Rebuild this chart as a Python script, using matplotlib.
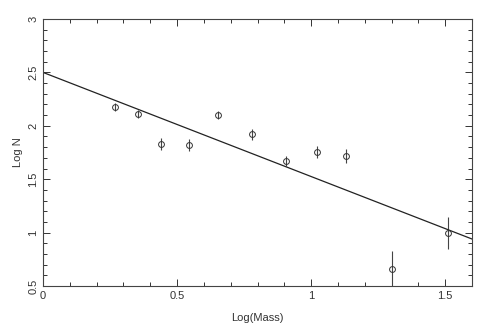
import matplotlib
matplotlib.use('Agg')
import matplotlib.pyplot as plt
from matplotlib.ticker import MultipleLocator

# Data
log_mass = [0.27, 0.354, 0.44, 0.545, 0.653, 0.78, 0.907, 1.022, 1.13, 1.302, 1.51]
log_n = [2.175, 2.11, 1.83, 1.82, 2.10, 1.92, 1.67, 1.755, 1.715, 0.66, 1.0]
log_n_err = [0.04, 0.04, 0.06, 0.06, 0.04, 0.05, 0.05, 0.06, 0.065, 0.17, 0.15]

fit_x = [0.0, 1.6]
fit_intercept = 2.5
fit_slope = -0.975

plt.rcParams['font.family'] = ['Liberation Sans', 'DejaVu Sans']
fig = plt.figure(figsize=(4.91, 3.35), dpi=100)
ax = fig.add_axes([43 / 491, 1 - 286 / 335, 429 / 491, 267 / 335])

ax.errorbar(log_mass, log_n, yerr=log_n_err, fmt='o', mfc='none', mec='#333333',
            ecolor='#444444', ms=4.2, mew=0.7, elinewidth=0.8, capsize=0)
ax.plot(fit_x, [fit_intercept + fit_slope * x for x in fit_x], color='#222222', lw=0.9)

ax.set_xlim(0, 1.6)
ax.set_ylim(0.5, 3)
ax.xaxis.set_major_locator(MultipleLocator(0.5))
ax.xaxis.set_minor_locator(MultipleLocator(0.1))
ax.yaxis.set_major_locator(MultipleLocator(0.5))
ax.yaxis.set_minor_locator(MultipleLocator(0.1))
ax.xaxis.set_major_formatter(plt.FuncFormatter(lambda v, p: f'{v:g}'))
ax.yaxis.set_major_formatter(plt.FuncFormatter(lambda v, p: f'{v:g}'))

ax.tick_params(which='both', direction='in', top=True, right=True, colors='#333333',
               labelsize=8, width=0.7)
ax.tick_params(which='major', length=5)
ax.tick_params(which='minor', length=3)
ax.tick_params(axis='y', labelrotation=90)
for lab in ax.get_yticklabels():
    lab.set_va('center')
for sp in ax.spines.values():
    sp.set_color('#444444')
    sp.set_linewidth(0.8)

ax.set_xlabel('Log(Mass)', fontsize=8, color='#333333', labelpad=9)
ax.set_ylabel('Log N', fontsize=8, color='#333333', labelpad=4)

fig.savefig('out.png', dpi=100, facecolor='white')
